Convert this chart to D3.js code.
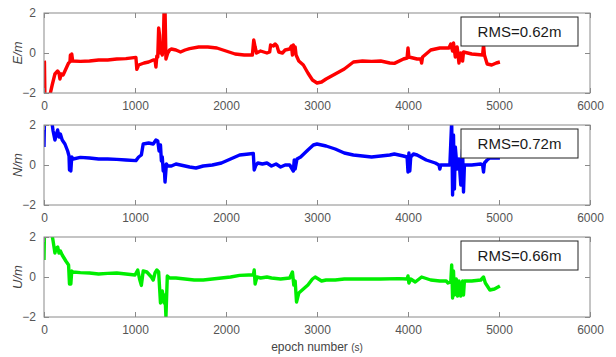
<!DOCTYPE html>
<html>
<head>
<meta charset="utf-8">
<script src="https://cdn.jsdelivr.net/npm/d3@7"></script>
<style>
  body { margin: 0; background: #fff; }
  text { font-family: "Liberation Sans", Arial, sans-serif; }
</style>
</head>
<body>
<div id="chart"></div>
<script>
// epoch (s), error (m)
var eastSeries = [[0,-0.4],[5,-0.45],[10,-2.2],[60,-2.2],[90,-1.6],[120,-1.05],[150,-0.9],[165,-1.0],[175,-1.3],[190,-1.05],[210,-1.1],[240,-0.8],[270,-0.5],[285,-0.45],[290,-0.1],[300,-0.3],[305,-0.05],[315,-0.4],[400,-0.42],[500,-0.4],[600,-0.35],[700,-0.35],[800,-0.3],[900,-0.28],[1010,-0.22],[1020,-0.82],[1040,-0.6],[1100,-0.5],[1150,-0.45],[1200,-0.35],[1220,-0.35],[1230,-0.7],[1240,-0.15],[1250,-0.2],[1260,1.25],[1270,0.9],[1280,0.0],[1290,0.5],[1300,-0.1],[1310,0.3],[1320,2.2],[1330,2.2],[1340,-0.3],[1350,-0.15],[1360,0.0],[1380,0.15],[1400,0.2],[1450,0.15],[1500,0.05],[1550,0.15],[1600,0.22],[1700,0.3],[1800,0.3],[1900,0.25],[2000,0.1],[2100,-0.05],[2200,-0.1],[2290,-0.1],[2305,0.65],[2320,0.3],[2335,0.0],[2380,0.1],[2450,0.0],[2480,0.05],[2490,0.4],[2520,0.35],[2540,0.45],[2560,0.35],[2580,0.05],[2620,0.0],[2650,0.15],[2700,0.2],[2720,0.35],[2730,-0.1],[2740,0.4],[2750,0.0],[2760,0.3],[2770,-0.1],[2800,-0.4],[2850,-0.6],[2900,-1.0],[2950,-1.35],[3000,-1.5],[3050,-1.45],[3100,-1.3],[3200,-1.05],[3300,-0.8],[3400,-0.45],[3500,-0.4],[3600,-0.42],[3700,-0.4],[3800,-0.5],[3850,-0.52],[3950,-0.3],[3990,-0.25],[4000,0.25],[4010,-0.2],[4100,-0.3],[4140,-0.3],[4150,-0.5],[4160,-0.2],[4250,0.15],[4350,0.25],[4450,0.25],[4470,0.45],[4490,0.1],[4500,0.5],[4520,-0.2],[4540,0.3],[4560,-0.5],[4580,0.0],[4600,-0.4],[4610,0.05],[4700,-0.05],[4820,-0.1],[4830,0.4],[4840,-0.1],[4870,-0.55],[4920,-0.6],[4970,-0.5],[5010,-0.45]];

var northSeries = [[0,0.9],[5,2.2],[85,2.2],[100,1.7],[120,1.25],[140,1.6],[150,1.75],[165,1.4],[180,1.55],[200,1.25],[230,1.05],[260,0.7],[275,0.45],[280,-0.25],[290,0.3],[295,-0.3],[305,0.4],[320,0.3],[400,0.38],[500,0.35],[600,0.3],[700,0.3],[800,0.28],[900,0.25],[1010,0.22],[1040,0.4],[1070,0.5],[1090,1.05],[1150,1.1],[1200,1.05],[1230,1.25],[1250,1.2],[1265,0.7],[1280,1.0],[1290,0.2],[1300,0.4],[1310,-0.3],[1320,0.0],[1330,-0.85],[1345,0.05],[1360,-0.05],[1400,-0.05],[1450,0.05],[1500,0.0],[1600,-0.1],[1670,-0.15],[1750,-0.05],[1850,0.0],[1950,0.1],[2050,0.3],[2150,0.5],[2250,0.55],[2300,0.58],[2310,-0.25],[2330,0.0],[2350,0.1],[2400,0.05],[2450,0.1],[2500,-0.05],[2550,0.05],[2600,-0.1],[2650,0.0],[2700,0.0],[2740,-0.3],[2750,0.25],[2760,-0.2],[2780,0.3],[2820,0.4],[2900,0.75],[2960,1.0],[3000,1.05],[3100,0.95],[3200,0.8],[3300,0.6],[3400,0.5],[3500,0.45],[3600,0.4],[3700,0.45],[3800,0.5],[3850,0.55],[3950,0.45],[3990,0.4],[4000,-0.35],[4010,0.6],[4020,-0.3],[4030,0.4],[4060,0.55],[4100,0.5],[4200,0.25],[4300,0.1],[4340,0.0],[4350,-0.2],[4360,0.0],[4460,0.0],[4480,2.2],[4490,-1.5],[4500,1.5],[4510,-1.2],[4520,0.9],[4540,-0.2],[4560,0.3],[4580,-1.0],[4600,0.8],[4610,-1.35],[4620,0.0],[4700,0.0],[4800,0.05],[4820,0.0],[4830,-0.35],[4840,0.1],[4870,0.25],[4900,0.35],[5010,0.35]];

var upSeries = [[0,0.85],[5,2.2],[85,2.2],[100,1.8],[120,1.2],[135,1.45],[150,1.5],[165,1.2],[180,1.3],[200,1.1],[240,0.8],[270,0.6],[280,-0.35],[290,0.2],[295,-0.35],[305,0.3],[320,0.25],[400,0.22],[500,0.2],[600,0.15],[700,0.18],[800,0.2],[900,0.15],[1000,0.1],[1030,0.35],[1050,-0.1],[1070,-0.42],[1090,0.3],[1130,0.25],[1180,0.0],[1200,-0.15],[1220,0.2],[1240,0.35],[1260,0.25],[1280,-1.3],[1300,-0.7],[1320,-1.3],[1330,-0.9],[1340,-2.0],[1355,0.05],[1380,-0.05],[1450,-0.05],[1550,-0.1],[1650,-0.15],[1750,-0.15],[1850,-0.1],[1950,-0.05],[2050,0.0],[2150,0.08],[2250,0.1],[2300,0.1],[2310,0.35],[2320,-0.35],[2340,0.0],[2380,-0.05],[2450,0.0],[2500,-0.05],[2600,-0.1],[2700,-0.05],[2730,0.25],[2745,-0.4],[2760,-0.2],[2775,-1.25],[2800,-0.8],[2850,-0.6],[2900,-0.4],[2950,-0.1],[2980,0.0],[3050,-0.2],[3100,-0.15],[3200,-0.15],[3300,-0.1],[3500,-0.1],[3700,-0.1],[3900,-0.08],[3990,-0.1],[4000,0.05],[4010,-0.3],[4030,-0.1],[4080,-0.25],[4150,0.0],[4250,-0.15],[4350,-0.2],[4420,-0.2],[4440,-0.3],[4470,-0.25],[4480,0.6],[4490,-1.05],[4500,0.3],[4510,-0.9],[4530,-0.1],[4545,-0.95],[4560,-0.2],[4580,-0.95],[4600,-0.2],[4610,-0.9],[4620,-0.2],[4700,-0.2],[4800,-0.15],[4830,0.0],[4850,-0.3],[4900,-0.65],[4950,-0.6],[5010,-0.45]];

var xTicks = [0, 1000, 2000, 3000, 4000, 5000, 6000];
var yTicks = [-2, 0, 2];
var panelNames = ["E/m", "N/m", "U/m"];
var rmsLabels = ["RMS=0.62m", "RMS=0.72m", "RMS=0.66m"];
var lineColors = ["#ff0000", "#0000ff", "#00ee00"];
var allSeries = [eastSeries, northSeries, upSeries];

var width = 616, height = 357;
var left = 44, right = 590;
var panelTops = [13, 125, 237], panelH = 80;

var svg = d3.select("#chart").append("svg")
  .attr("width", width)
  .attr("height", height);

var x = d3.scaleLinear().domain([0, 6000]).range([left, right]);

allSeries.forEach(function(series, i) {
  var top = panelTops[i];
  var y = d3.scaleLinear().domain([-2, 2]).range([top + panelH, top]);
  var g = svg.append("g");

  g.append("clipPath").attr("id", "clip" + i)
    .append("rect")
    .attr("x", left).attr("y", top)
    .attr("width", right - left).attr("height", panelH);

  var line = d3.line()
    .x(function(d) { return x(d[0]); })
    .y(function(d) { return y(d[1]); });

  g.append("path")
    .datum(series)
    .attr("clip-path", "url(#clip" + i + ")")
    .attr("fill", "none")
    .attr("stroke", lineColors[i])
    .attr("stroke-width", 3.4)
    .attr("stroke-linejoin", "round")
    .attr("d", line);

  // box and inward ticks
  g.append("rect")
    .attr("x", left).attr("y", top)
    .attr("width", right - left).attr("height", panelH)
    .style("fill", "none")
    .style("stroke", "#8a8a8a")
    .style("stroke-width", 1);

  g.append("g")
    .attr("transform", "translate(0," + (top + panelH) + ")")
    .call(d3.axisBottom(x).tickValues(xTicks).tickSize(-5).tickPadding(8).tickFormat(d3.format("d")))
    .call(function(a) { a.select(".domain").remove(); });
  g.append("g")
    .attr("transform", "translate(0," + top + ")")
    .call(d3.axisTop(x).tickValues(xTicks).tickSize(-5).tickFormat(""))
    .call(function(a) { a.select(".domain").remove(); });
  g.append("g")
    .attr("transform", "translate(" + left + ",0)")
    .call(d3.axisLeft(y).tickValues(yTicks).tickSize(-5).tickPadding(8).tickFormat(d3.format("d")))
    .call(function(a) { a.select(".domain").remove(); });
  g.append("g")
    .attr("transform", "translate(" + right + ",0)")
    .call(d3.axisRight(y).tickValues(yTicks).tickSize(-5).tickFormat(""))
    .call(function(a) { a.select(".domain").remove(); });

  g.selectAll(".tick line").attr("stroke", "#8a8a8a");
  g.selectAll(".tick text")
    .attr("fill", "#555")
    .style("font-size", "12px")
    .style("font-family", "'Liberation Sans', Arial, sans-serif");

  g.append("text")
    .attr("transform", "translate(22," + (top + panelH / 2) + ") rotate(-90)")
    .attr("text-anchor", "middle")
    .attr("fill", "#444")
    .style("font-size", "13px")
    .style("font-style", "italic")
    .text(panelNames[i]);

  // RMS box
  var bx = 461, by = top + 4, bw = 117, bh = 29;
  g.append("rect")
    .attr("x", bx).attr("y", by)
    .attr("width", bw).attr("height", bh)
    .style("fill", "#fff")
    .style("stroke", "#222")
    .style("stroke-width", 1);
  g.append("text")
    .attr("x", bx + bw / 2).attr("y", by + bh / 2 + 5)
    .attr("text-anchor", "middle")
    .attr("fill", "#1a1a1a")
    .style("font-size", "15px")
    .text(rmsLabels[i]);
});

var xLabel = svg.append("text")
  .attr("x", (left + right) / 2)
  .attr("y", 351)
  .attr("text-anchor", "middle")
  .attr("fill", "#444")
  .style("font-size", "12px")
  .text("epoch number ");
xLabel.append("tspan").style("font-size", "10px").text("(s)");
</script>
</body>
</html>
